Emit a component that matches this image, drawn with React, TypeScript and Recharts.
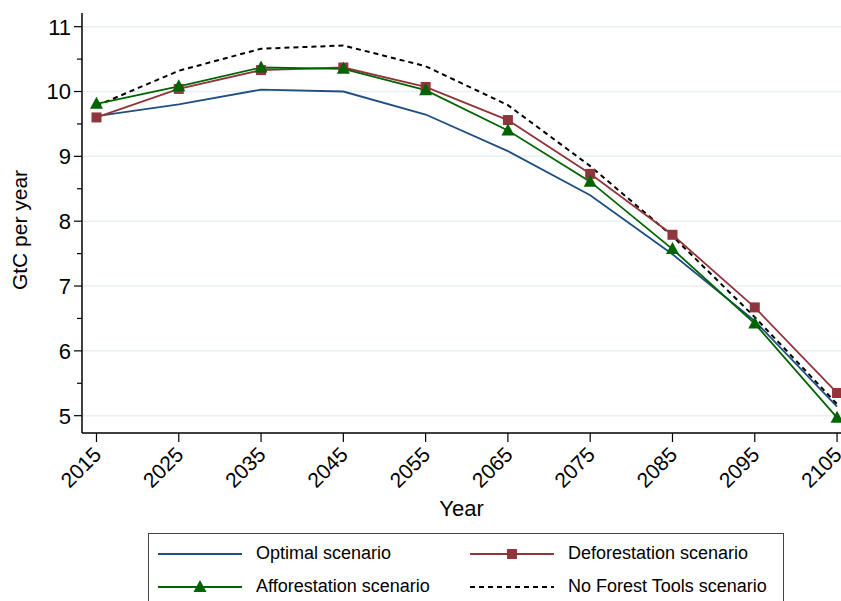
import React from "react";
import { LineChart, Line, XAxis, YAxis, ReferenceLine } from "recharts";

// data
const years = [2015, 2025, 2035, 2045, 2055, 2065, 2075, 2085, 2095, 2105];
const optimal = [9.62, 9.8, 10.03, 10.0, 9.645, 9.08, 8.4, 7.49, 6.46, 5.14];
const deforestation = [9.6, 10.04, 10.33, 10.37, 10.07, 9.56, 8.73, 7.79, 6.67, 5.35];
const afforestation = [9.81, 10.08, 10.37, 10.35, 10.02, 9.4, 8.61, 7.57, 6.42, 4.97];
const noForestTools = [9.78, 10.32, 10.66, 10.71, 10.39, 9.79, 8.85, 7.77, 6.52, 5.18];

const yTicks = [5, 5.5, 6, 6.5, 7, 7.5, 8, 8.5, 9, 9.5, 10, 10.5, 11];
const gridValues = [5, 6, 7, 8, 9, 10, 11];

const data = years.map((year, i) => ({
  year,
  optimal: optimal[i],
  deforestation: deforestation[i],
  afforestation: afforestation[i],
  noForestTools: noForestTools[i],
}));

const NAVY = "#1f4f80";
const MAROON = "#90353b";
const GREEN = "#006400";
const FONT = "'Liberation Sans', Arial, Helvetica, sans-serif";

const YTick = (props: any) => {
  const { x, y, payload } = props;
  const major = Number.isInteger(payload.value);
  return (
    <g>
      <line x1={x - (major ? 8 : 5)} x2={x} y1={y} y2={y} stroke="#000" strokeWidth={1.2} />
      {major && (
        <text x={x - 11} y={y} dy="0.36em" textAnchor="end" fontSize={22} fill="#000" fontFamily={FONT}>
          {payload.value}
        </text>
      )}
    </g>
  );
};

const XTick = (props: any) => {
  const { x, y, payload } = props;
  return (
    <g>
      <line x1={x} x2={x} y1={y} y2={y + 9} stroke="#000" strokeWidth={1.2} />
      <text
        x={x + 6}
        y={y + 23}
        textAnchor="end"
        fontSize={21}
        fill="#000"
        fontFamily={FONT}
        transform={`rotate(-45 ${x + 6} ${y + 23})`}
      >
        {payload.value}
      </text>
    </g>
  );
};

const squareDot = (props: any) => {
  const { cx, cy, key } = props;
  return <rect key={key} x={cx - 5} y={cy - 5} width={10} height={10} fill={MAROON} />;
};

const triangleDot = (props: any) => {
  const { cx, cy, key } = props;
  return <polygon key={key} points={`${cx},${cy - 7} ${cx - 6.5},${cy + 5} ${cx + 6.5},${cy + 5}`} fill={GREEN} />;
};

const LegendItem = ({ kind, label }: { kind: string; label: string }) => (
  <div style={{ display: "flex", alignItems: "center", height: 33 }}>
    <svg width={84} height={16} style={{ marginRight: 14 }}>
      {kind === "optimal" && <line x1={0} x2={84} y1={8} y2={8} stroke={NAVY} strokeWidth={2} />}
      {kind === "deforestation" && (
        <g>
          <line x1={0} x2={84} y1={8} y2={8} stroke={MAROON} strokeWidth={2} />
          <rect x={37} y={3} width={10} height={10} fill={MAROON} />
        </g>
      )}
      {kind === "afforestation" && (
        <g>
          <line x1={0} x2={84} y1={8} y2={8} stroke={GREEN} strokeWidth={2} />
          <polygon points="42,1 35.5,13 48.5,13" fill={GREEN} />
        </g>
      )}
      {kind === "noForest" && <line x1={0} x2={84} y1={8} y2={8} stroke="#000" strokeWidth={2} strokeDasharray="5 4" />}
    </svg>
    <span style={{ fontSize: 18, fontFamily: FONT, color: "#000", whiteSpace: "nowrap" }}>{label}</span>
  </div>
);

export default function App() {
  return (
    <div style={{ position: "absolute", left: 0, top: 0, width: 841, height: 601, background: "#fff", overflow: "hidden" }}>
      <LineChart width={841} height={601} data={data} margin={{ top: 13, right: 0, left: 0, bottom: 0 }}>
        <XAxis
          dataKey="year"
          type="number"
          domain={[2013.24, 2105.48]}
          allowDataOverflow
          ticks={years}
          interval={0}
          tick={<XTick />}
          tickLine={false}
          tickSize={0}
          tickMargin={0}
          axisLine={{ stroke: "#000", strokeWidth: 1.5 }}
          height={168}
          label={{ value: "Year", position: "insideTop", offset: 67, fontSize: 22, fill: "#000", fontFamily: FONT }}
        />
        <YAxis
          type="number"
          domain={[4.733, 11.211]}
          allowDataOverflow
          ticks={yTicks}
          interval={0}
          tick={<YTick />}
          tickLine={false}
          tickSize={0}
          tickMargin={0}
          width={82}
          axisLine={{ stroke: "#000", strokeWidth: 1.5 }}
          label={{ value: "GtC per year", angle: -90, position: "insideLeft", offset: 20, dy: 7, fontSize: 21, fill: "#000", fontFamily: FONT, style: { textAnchor: "middle" } }}
        />
        {gridValues.map((v) => (
          <ReferenceLine key={v} y={v} stroke="#e8eff2" strokeWidth={1.5} />
        ))}
        <Line dataKey="optimal" stroke={NAVY} strokeWidth={1.8} dot={false} isAnimationActive={false} />
        <Line dataKey="noForestTools" stroke="#000" strokeWidth={2} strokeDasharray="5 4" dot={false} isAnimationActive={false} />
        <Line dataKey="deforestation" stroke={MAROON} strokeWidth={1.8} dot={squareDot} isAnimationActive={false} />
        <Line dataKey="afforestation" stroke={GREEN} strokeWidth={1.8} dot={triangleDot} isAnimationActive={false} />
      </LineChart>
      <div
        style={{
          position: "absolute",
          left: 148,
          top: 533,
          width: 636,
          height: 90,
          border: "1px solid #444",
          boxSizing: "border-box",
          padding: "3px 0 0 9px",
          display: "grid",
          gridTemplateColumns: "312px 312px",
          gridAutoRows: "33px",
          alignContent: "start",
        }}
      >
        <LegendItem kind="optimal" label="Optimal scenario" />
        <LegendItem kind="deforestation" label="Deforestation scenario" />
        <LegendItem kind="afforestation" label="Afforestation scenario" />
        <LegendItem kind="noForest" label="No Forest Tools scenario" />
      </div>
    </div>
  );
}
